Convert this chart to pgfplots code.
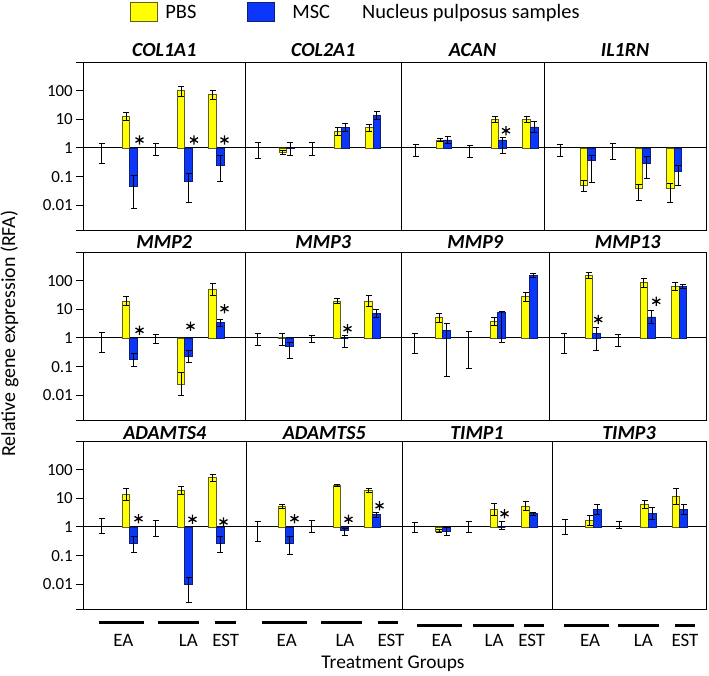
\documentclass[border=0pt]{standalone}
\usepackage{fontspec}
\setmainfont{Carlito}
\usepackage{pgfplots}
\pgfplotsset{compat=1.18}

\definecolor{pbs}{RGB}{255,255,0}
\definecolor{pbsedge}{RGB}{95,95,30}
\definecolor{msc}{RGB}{10,55,250}
\definecolor{mscedge}{RGB}{15,30,120}

\pgfplotsset{
  every axis title/.style={at={(0.5,1)}, anchor=base, inner sep=0pt,
    font=\fontsize{20}{20}\selectfont\bfseries\itshape},
  every axis/.append style={
    scale only axis, height=168.5bp, anchor=north west,
    ymode=log, ymin=1.32e-3, ymax=1000, log origin y=0,
    axis line style={black, line width=1bp},
    xtick=\empty, ytick=\empty, clip=false,
    extra y ticks={1}, extra y tick labels={},
    extra y tick style={grid=major, major tick length=0pt,
      major grid style={black, line width=1bp}},
  },
  mycolone/.style={
    ytick={1.32e-3,0.01,0.1,1,10,100,1000},
    yticklabels={,0.01,0.1,1,10,100,},
    ytick pos=left, tick align=outside, major tick length=7bp,
    tick style={black, line width=1bp},
    yticklabel style={font=\fontsize{17}{17}\selectfont, inner sep=0pt, xshift=-3bp},
  },
  myrowa/.style={title style={yshift=5.4bp}},
  myrowb/.style={title style={yshift=4bp}},
  myrowc/.style={title style={yshift=1.2bp}},
  myerrs/.style={error bars/.cd, y dir=both, y explicit,
    error bar style={draw=black, line width=0.9bp},
    error mark options={draw=black, rotate=90, mark size=3bp, line width=0.9bp}},
  myctrl/.style={forget plot, draw=none, mark=none, myerrs},
  mypbs/.style={forget plot, ybar, bar width=7.6, bar shift=0pt,
    fill=pbs, draw=pbsedge, line width=0.8bp, myerrs},
  mymsc/.style={forget plot, ybar, bar width=7.6, bar shift=0pt,
    fill=msc, draw=mscedge, line width=0.8bp, myerrs},
  mystar/.style={forget plot, only marks, mark=asterisk, mark size=4.6bp,
    mark options={black, line width=1.3bp}},
}

\begin{document}
\begin{tikzpicture}
\useasboundingbox (0,0) rectangle (709bp,-676bp);

% ---------------- row 1
\begin{axis}[mycolone, myrowa, at={(83bp,-62bp)}, width=162.5bp, xmin=-3.5, xmax=159,
  title={COL1A1},
  legend image code/.code={\draw[#1, line width=0.9bp] (0bp,-9.5bp) rectangle (27bp,9.5bp);},
  legend style={at={(0,1)}, anchor=north west, xshift=46.3bp, yshift=60bp,
    draw=none, fill=none, inner sep=0pt, legend columns=2,
    font=\fontsize{20.5}{20.5}\selectfont,
    /tikz/every odd column/.append style={column sep=6bp},
    /tikz/every even column/.append style={column sep=49bp}}]
\addlegendimage{fill=pbs, draw=pbsedge}\addlegendentry{PBS}
\addlegendimage{fill=msc, draw=mscedge}\addlegendentry{\hspace*{9bp}MSC}
\addplot[myctrl] table[row sep=\\, y error plus expr=\thisrow{hi}-\thisrow{y}, y error minus expr=\thisrow{y}-\thisrow{lo}] {x y hi lo\\ 15 1 1.45 0.3\\ 69 1 1.4 0.56\\};
\addplot[mypbs] table[row sep=\\, y error plus expr=\thisrow{hi}-\thisrow{y}, y error minus expr=\thisrow{y}-\thisrow{lo}] {x y hi lo\\ 39.5 13 18 9.4\\ 94.5 100 142 65\\ 126 72 105 50\\};
\addplot[mymsc] table[row sep=\\, y error plus expr=\thisrow{hi}-\thisrow{y}, y error minus expr=\thisrow{y}-\thisrow{lo}] {x y hi lo\\ 47.1 0.047 0.107 0.008\\ 102.1 0.066 0.13 0.0124\\ 133.6 0.24 0.55 0.066\\};
\addplot[mystar] coordinates {(53,1.9) (107.5,1.9) (138,1.9)};
\end{axis}

\begin{axis}[myrowa, at={(245.5bp,-62bp)}, width=155.5bp, xmin=2.3, xmax=157.8, title={COL2A1}]
\addplot[myctrl] table[row sep=\\, y error plus expr=\thisrow{hi}-\thisrow{y}, y error minus expr=\thisrow{y}-\thisrow{lo}] {x y hi lo\\ 15 1 1.55 0.43\\ 69 1 1.5 0.56\\};
\addplot[mypbs] table[row sep=\\, y error plus expr=\thisrow{hi}-\thisrow{y}, y error minus expr=\thisrow{y}-\thisrow{lo}] {x y hi lo\\ 39.5 0.7 0.82 0.6\\ 94.5 3.9 5.4 2.8\\ 126 5.1 6.6 3.9\\};
\addplot[mymsc] table[row sep=\\, y error plus expr=\thisrow{hi}-\thisrow{y}, y error minus expr=\thisrow{y}-\thisrow{lo}] {x y hi lo\\ 47.1 0.95 1.5 0.56\\ 102.1 5.1 7.1 3.7\\ 133.6 13.7 18.7 10\\};
\end{axis}

\begin{axis}[myrowa, at={(401bp,-62bp)}, width=143bp, xmin=0.5, xmax=143.5, title={ACAN}]
\addplot[myctrl] table[row sep=\\, y error plus expr=\thisrow{hi}-\thisrow{y}, y error minus expr=\thisrow{y}-\thisrow{lo}] {x y hi lo\\ 15 1 1.34 0.51\\ 69 1 1.23 0.48\\};
\addplot[mypbs] table[row sep=\\, y error plus expr=\thisrow{hi}-\thisrow{y}, y error minus expr=\thisrow{y}-\thisrow{lo}] {x y hi lo\\ 39.5 1.9 2.15 1.68\\ 94.5 9.8 12.2 7.9\\ 126 9.8 12.5 7.7\\};
\addplot[mymsc] table[row sep=\\, y error plus expr=\thisrow{hi}-\thisrow{y}, y error minus expr=\thisrow{y}-\thisrow{lo}] {x y hi lo\\ 47.1 1.9 2.5 1.45\\ 102.1 1.9 2.4 0.65\\ 133.6 5.4 8.4 3.5\\};
\addplot[mystar] coordinates {(105.5,4.0)};
\end{axis}

\begin{axis}[myrowa, at={(544bp,-62bp)}, width=162bp, xmin=-0.4, xmax=161.6, title={IL1RN}]
\addplot[myctrl] table[row sep=\\, y error plus expr=\thisrow{hi}-\thisrow{y}, y error minus expr=\thisrow{y}-\thisrow{lo}] {x y hi lo\\ 16 1 1.3 0.5\\ 68.5 1 1.45 0.41\\};
\addplot[mypbs] table[row sep=\\, y error plus expr=\thisrow{hi}-\thisrow{y}, y error minus expr=\thisrow{y}-\thisrow{lo}] {x y hi lo\\ 39.5 0.05 0.073 0.031\\ 94.5 0.038 0.053 0.015\\ 126 0.038 0.06 0.0124\\};
\addplot[mymsc] table[row sep=\\, y error plus expr=\thisrow{hi}-\thisrow{y}, y error minus expr=\thisrow{y}-\thisrow{lo}] {x y hi lo\\ 47.1 0.38 0.54 0.064\\ 102.1 0.28 0.5 0.084\\ 133.6 0.147 0.24 0.049\\};
\end{axis}

% ---------------- row 2
\begin{axis}[mycolone, myrowb, at={(83bp,-252bp)}, width=162.5bp, xmin=-3.5, xmax=159, title={MMP2}]
\addplot[myctrl] table[row sep=\\, y error plus expr=\thisrow{hi}-\thisrow{y}, y error minus expr=\thisrow{y}-\thisrow{lo}] {x y hi lo\\ 15 1 1.53 0.31\\ 69 1 1.38 0.63\\};
\addplot[mypbs] table[row sep=\\, y error plus expr=\thisrow{hi}-\thisrow{y}, y error minus expr=\thisrow{y}-\thisrow{lo}] {x y hi lo\\ 39.5 19.5 28.5 13.3\\ 94.5 0.0236 0.065 0.0095\\ 126 51 83 31\\};
\addplot[mymsc] table[row sep=\\, y error plus expr=\thisrow{hi}-\thisrow{y}, y error minus expr=\thisrow{y}-\thisrow{lo}] {x y hi lo\\ 47.1 0.176 0.28 0.10\\ 102.1 0.236 0.37 0.145\\ 133.6 3.6 4.6 2.5\\};
\addplot[mystar] coordinates {(53,1.85) (104,2.55) (138,10.5)};
\end{axis}

\begin{axis}[myrowb, at={(245.5bp,-252bp)}, width=155.5bp, xmin=3, xmax=158.5, title={MMP3}]
\addplot[myctrl] table[row sep=\\, y error plus expr=\thisrow{hi}-\thisrow{y}, y error minus expr=\thisrow{y}-\thisrow{lo}] {x y hi lo\\ 15 1 1.49 0.55\\ 69 1 1.27 0.69\\};
\addplot[mypbs] table[row sep=\\, y error plus expr=\thisrow{hi}-\thisrow{y}, y error minus expr=\thisrow{y}-\thisrow{lo}] {x y hi lo\\ 39.5 1.05 1.4 0.55\\ 94.5 19.5 24 15.8\\ 126 19.5 30 12.7\\};
\addplot[mymsc] table[row sep=\\, y error plus expr=\thisrow{hi}-\thisrow{y}, y error minus expr=\thisrow{y}-\thisrow{lo}] {x y hi lo\\ 47.1 0.49 0.7 0.2\\ 102.1 1.0 1.24 0.45\\ 133.6 7.1 9.7 5.2\\};
\addplot[mystar] coordinates {(105,2.1)};
\end{axis}

\begin{axis}[myrowb, at={(401bp,-252bp)}, width=148.5bp, xmin=1.5, xmax=150, title={MMP9}]
\addplot[myctrl] table[row sep=\\, y error plus expr=\thisrow{hi}-\thisrow{y}, y error minus expr=\thisrow{y}-\thisrow{lo}] {x y hi lo\\ 15 1 1.49 0.30\\ 69 1 1.7 0.085\\};
\addplot[mypbs] table[row sep=\\, y error plus expr=\thisrow{hi}-\thisrow{y}, y error minus expr=\thisrow{y}-\thisrow{lo}] {x y hi lo\\ 39.5 5.1 7.4 3.5\\ 94.5 3.9 5.4 2.8\\ 126 27.6 40 19\\};
\addplot[mymsc] table[row sep=\\, y error plus expr=\thisrow{hi}-\thisrow{y}, y error minus expr=\thisrow{y}-\thisrow{lo}] {x y hi lo\\ 47.1 1.85 3.3 0.046\\ 102.1 7.6 8.7 0.7\\ 133.6 153 175 134\\};
\end{axis}

\begin{axis}[myrowb, at={(549.5bp,-252bp)}, width=156.5bp, xmin=0.2, xmax=156.7, title={MMP13}]
\addplot[myctrl] table[row sep=\\, y error plus expr=\thisrow{hi}-\thisrow{y}, y error minus expr=\thisrow{y}-\thisrow{lo}] {x y hi lo\\ 15 1 1.49 0.30\\ 69 1 1.3 0.51\\};
\addplot[mypbs] table[row sep=\\, y error plus expr=\thisrow{hi}-\thisrow{y}, y error minus expr=\thisrow{y}-\thisrow{lo}] {x y hi lo\\ 39.5 153 190 123\\ 94.5 85 123 59\\ 126 63 85 47\\};
\addplot[mymsc] table[row sep=\\, y error plus expr=\thisrow{hi}-\thisrow{y}, y error minus expr=\thisrow{y}-\thisrow{lo}] {x y hi lo\\ 47.1 1.45 2.3 0.38\\ 102.1 5.4 9.2 3.2\\ 133.6 63 72 55\\};
\addplot[mystar] coordinates {(49,4.4) (107,19)};
\end{axis}

% ---------------- row 3
\begin{axis}[mycolone, myrowc, at={(83bp,-441bp)}, width=163.5bp, xmin=-3.5, xmax=160, title={ADAMTS4}]
\addplot[myctrl] table[row sep=\\, y error plus expr=\thisrow{hi}-\thisrow{y}, y error minus expr=\thisrow{y}-\thisrow{lo}] {x y hi lo\\ 15 1 2.06 0.59\\ 69 1 1.66 0.45\\};
\addplot[mypbs] table[row sep=\\, y error plus expr=\thisrow{hi}-\thisrow{y}, y error minus expr=\thisrow{y}-\thisrow{lo}] {x y hi lo\\ 39.5 13.7 22 8.5\\ 94.5 18.8 26 13.6\\ 126 52 68 40\\};
\addplot[mymsc] table[row sep=\\, y error plus expr=\thisrow{hi}-\thisrow{y}, y error minus expr=\thisrow{y}-\thisrow{lo}] {x y hi lo\\ 47.1 0.26 0.45 0.128\\ 102.1 0.01 0.017 0.0024\\ 133.6 0.26 0.45 0.128\\};
\addplot[mystar] coordinates {(52,1.95) (106,1.85) (137,1.5)};
\end{axis}

\begin{axis}[myrowc, at={(246.5bp,-441bp)}, width=155.5bp, xmin=4, xmax=159.5, title={ADAMTS5}]
\addplot[myctrl] table[row sep=\\, y error plus expr=\thisrow{hi}-\thisrow{y}, y error minus expr=\thisrow{y}-\thisrow{lo}] {x y hi lo\\ 15 1 1.62 0.32\\ 69 1 1.7 0.63\\};
\addplot[mypbs] table[row sep=\\, y error plus expr=\thisrow{hi}-\thisrow{y}, y error minus expr=\thisrow{y}-\thisrow{lo}] {x y hi lo\\ 39.5 5.4 6.3 4.6\\ 94.5 28 29.5 26.5\\ 126 18.8 22.7 15.5\\};
\addplot[mymsc] table[row sep=\\, y error plus expr=\thisrow{hi}-\thisrow{y}, y error minus expr=\thisrow{y}-\thisrow{lo}] {x y hi lo\\ 47.1 0.26 0.45 0.112\\ 102.1 0.77 0.9 0.49\\ 133.6 2.7 3.3 2.2\\};
\addplot[mystar] coordinates {(52,1.95) (106,1.85) (137,5.5)};
\end{axis}

\begin{axis}[myrowc, at={(402bp,-441bp)}, width=150bp, xmin=2.5, xmax=152.5, title={TIMP1}]
\addplot[myctrl] table[row sep=\\, y error plus expr=\thisrow{hi}-\thisrow{y}, y error minus expr=\thisrow{y}-\thisrow{lo}] {x y hi lo\\ 15 1 1.49 0.64\\ 69 1 1.62 0.64\\};
\addplot[mypbs] table[row sep=\\, y error plus expr=\thisrow{hi}-\thisrow{y}, y error minus expr=\thisrow{y}-\thisrow{lo}] {x y hi lo\\ 39.5 0.73 0.8 0.66\\ 94.5 4.2 6.8 2.6\\ 126 5.4 7.6 3.8\\};
\addplot[mymsc] table[row sep=\\, y error plus expr=\thisrow{hi}-\thisrow{y}, y error minus expr=\thisrow{y}-\thisrow{lo}] {x y hi lo\\ 47.1 0.73 1.0 0.49\\ 102.1 1.0 1.62 0.83\\ 133.6 2.9 3.3 2.5\\};
\addplot[mystar] coordinates {(105,2.9)};
\end{axis}

\begin{axis}[myrowc, at={(552bp,-441bp)}, width=154bp, xmin=2, xmax=156, title={TIMP3}]
\addplot[myctrl] table[row sep=\\, y error plus expr=\thisrow{hi}-\thisrow{y}, y error minus expr=\thisrow{y}-\thisrow{lo}] {x y hi lo\\ 15 1 1.9 0.56\\ 69 1 1.62 0.87\\};
\addplot[mypbs] table[row sep=\\, y error plus expr=\thisrow{hi}-\thisrow{y}, y error minus expr=\thisrow{y}-\thisrow{lo}] {x y hi lo\\ 39.5 1.7 2.5 1.15\\ 94.5 6.0 8.4 4.3\\ 126 11.6 21.5 6.3\\};
\addplot[mymsc] table[row sep=\\, y error plus expr=\thisrow{hi}-\thisrow{y}, y error minus expr=\thisrow{y}-\thisrow{lo}] {x y hi lo\\ 47.1 4.0 6.0 2.7\\ 102.1 2.9 4.7 1.8\\ 133.6 4.0 6.0 2.7\\};
\end{axis}

% ---------------- annotations
\node[anchor=west, font=\fontsize{20.5}{20.5}\selectfont, inner sep=0pt] at (362bp,-13.5bp) {Nucleus pulposus samples};
\node[rotate=90, font=\fontsize{20}{20}\selectfont, inner sep=0pt] at (9.5bp,-333.5bp) {Relative gene expression (RFA)};

\begin{scope}[line width=2.6bp]
\draw (99.3bp,-622.3bp) -- (144.3bp,-622.3bp);
\draw (158.3bp,-622.3bp) -- (199.3bp,-622.3bp);
\draw (215bp,-622.3bp) -- (235.7bp,-622.3bp);
\draw (262.3bp,-622.3bp) -- (307.3bp,-622.3bp);
\draw (321bp,-622.3bp) -- (361.7bp,-622.3bp);
\draw (377.7bp,-622.3bp) -- (398bp,-622.3bp);
\draw (417.3bp,-625.7bp) -- (462.3bp,-625.7bp);
\draw (473.3bp,-625.7bp) -- (514bp,-625.7bp);
\draw (524.3bp,-625.7bp) -- (544.3bp,-625.7bp);
\draw (564bp,-625.7bp) -- (609.3bp,-625.7bp);
\draw (618.3bp,-625.7bp) -- (659.3bp,-625.7bp);
\draw (675bp,-625.7bp) -- (695bp,-625.7bp);
\end{scope}
\begin{scope}[every node/.style={font=\fontsize{19}{19}\selectfont, inner sep=0pt}]
\node at (123.3bp,-640bp) {EA};
\node at (188.3bp,-640bp) {LA};
\node at (225.7bp,-640bp) {EST};
\node at (286.7bp,-640bp) {EA};
\node at (345bp,-640bp) {LA};
\node at (391bp,-640bp) {EST};
\node at (441.7bp,-640bp) {EA};
\node at (494bp,-640bp) {LA};
\node at (531.7bp,-640bp) {EST};
\node at (590bp,-640bp) {EA};
\node at (643.3bp,-640bp) {LA};
\node at (685bp,-640bp) {EST};
\end{scope}
\node[font=\fontsize{19.5}{19.5}\selectfont, inner sep=0pt] at (393bp,-663.3bp) {Treatment Groups};
\end{tikzpicture}
\end{document}
